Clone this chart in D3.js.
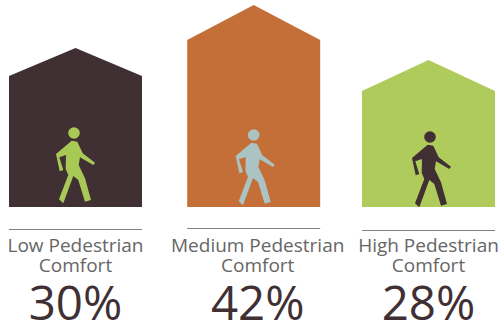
<!DOCTYPE html>
<html>
<head>
<meta charset="utf-8">
<script src="https://cdn.jsdelivr.net/npm/d3@7"></script>
<style>
html, body { margin: 0; padding: 0; background: #fff; }
svg { display: block; }
text { font-family: "Open Sans", sans-serif; text-anchor: middle; }
</style>
</head>
<body>
<script>
// Pedestrian comfort shares, one house per level
const levels = ["Low", "Medium", "High"];
const labelFirstLines = ["Low Pedestrian", "Medium Pedestrian", "High Pedestrian"];
const labelSecondLines = ["Comfort", "Comfort", "Comfort"];
const shares = [30, 42, 28];
const wallColors = ["#403034", "#c56f38", "#afcb5c"];
const walkerColors = ["#a9c957", "#abc3c3", "#403034"];

// Small per-house layout nudges
const houseShiftX = [0, 1.7, 0];
const walkerShiftX = [-1.5, 0, 1.5];
const walkerHeadY = [133, 135, 137];
const ruleY = [229.5, 228.5, 230.5];
const labelShiftX = [0, 4, 0];

const width = 499, height = 327;
const baseY = 207;

const svg = d3.select("body").append("svg")
  .attr("width", width).attr("height", height);

const x = d3.scaleBand().domain(levels).range([9, 495]).paddingInner(0.2465).paddingOuter(0);
const left = (d, i) => x(d) + houseShiftX[i];
const centre = (d, i) => left(d, i) + x.bandwidth() / 2;

// Ridge and eave heights rise with the share of each level
const ridgeHeight = d3.scaleLinear().domain([28, 30, 42]).range([147, 159, 202]);
const eaveHeight = d3.scaleLinear().domain([28, 30, 42]).range([116, 131, 167]);

// Walking figure outline, in pixels relative to the centre of the head
const walkerBody = d3.line()([
  [-2.3, 7.7], [3.3, 8.7], [8.7, 20.3], [21, 29.7], [19.3, 32], [6, 24.3],
  [4.7, 32], [11, 45.3], [17, 67], [11, 68.7], [4.3, 47], [-0.7, 43],
  [-10.7, 70.3], [-15, 66.3], [-5.7, 42], [-8.3, 36], [-8, 22], [-14.7, 24.3],
  [-10.7, 37], [-14.3, 38.3], [-18, 21]
]) + "Z";

const group = svg.selectAll("g.house")
  .data(levels)
  .join("g")
  .attr("class", "house");

group.append("path")
  .attr("fill", (d, i) => wallColors[i])
  .attr("d", (d, i) => {
    const l = left(d, i), r = l + x.bandwidth(), m = centre(d, i);
    const ridge = baseY - ridgeHeight(shares[i]);
    const eave = baseY - eaveHeight(shares[i]);
    return d3.line()([[l, baseY], [l, eave], [m, ridge], [r, eave], [r, baseY]]) + "Z";
  });

const walker = group.append("g")
  .attr("transform", (d, i) => `translate(${centre(d, i) + walkerShiftX[i]},${walkerHeadY[i]})`)
  .attr("fill", (d, i) => walkerColors[i]);
walker.append("circle").attr("r", 5.8);
walker.append("path").attr("d", walkerBody);

group.append("line")
  .attr("x1", left).attr("x2", (d, i) => left(d, i) + x.bandwidth())
  .attr("y1", (d, i) => ruleY[i])
  .attr("y2", (d, i) => ruleY[i])
  .attr("stroke", "#808080").attr("stroke-width", 1);

// Two-line caption under the rule
const caption = group.append("text")
  .attr("font-size", 19)
  .attr("fill", "#666666");
caption.append("tspan")
  .attr("x", (d, i) => centre(d, i) + labelShiftX[i])
  .attr("y", 252)
  .text((d, i) => labelFirstLines[i]);
caption.append("tspan")
  .attr("x", (d, i) => centre(d, i) + labelShiftX[i])
  .attr("y", 272)
  .text((d, i) => labelSecondLines[i]);

group.append("text")
  .attr("x", (d, i) => centre(d, i) + labelShiftX[i])
  .attr("y", 320)
  .attr("font-size", 47.5)
  .attr("fill", "#403034")
  .text((d, i) => shares[i] + "%");
</script>
</body>
</html>
